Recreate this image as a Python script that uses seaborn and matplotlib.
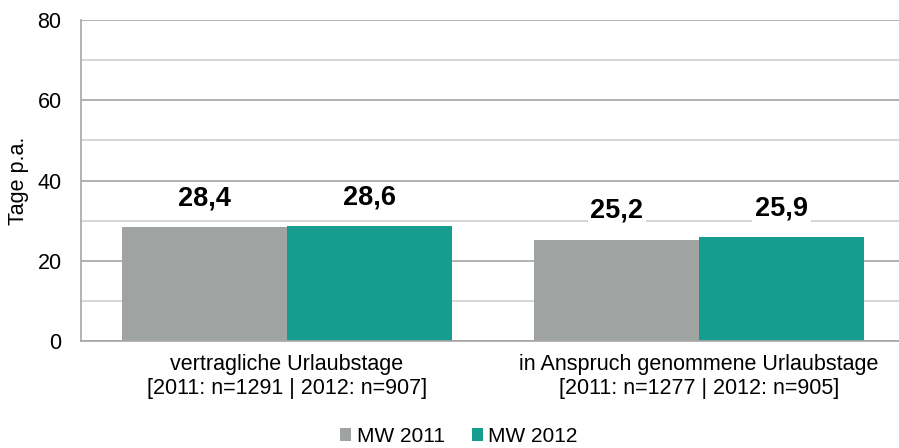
import pandas as pd
import matplotlib.pyplot as plt
import seaborn as sns
from matplotlib.ticker import MultipleLocator

categories = ['vertragliche Urlaubstage\n[2011: n=1291 | 2012: n=907]',
              'in Anspruch genommene Urlaubstage\n[2011: n=1277 | 2012: n=905]']
series = ['MW 2011', 'MW 2012']
values_2011 = [28.4, 25.2]
values_2012 = [28.6, 25.9]
colors = ['#9fa3a2', '#169d8f']

df = pd.DataFrame({
    'Kategorie': categories * 2,
    'Serie': [series[0]] * 2 + [series[1]] * 2,
    'Wert': values_2011 + values_2012,
})

sns.set_style('white')
plt.rcParams['font.family'] = ['Liberation Sans', 'DejaVu Sans']
plt.rcParams['text.color'] = 'black'

fig = plt.figure(figsize=(8.99, 4.48), dpi=100)
ax = fig.add_axes([81 / 899, 1 - 341 / 448, 1 - 81 / 899, 321 / 448])

sns.barplot(data=df, x='Kategorie', y='Wert', hue='Serie', order=categories,
            hue_order=series, palette=colors, width=0.8, saturation=1,
            linewidth=0, ax=ax, zorder=2)

ax.set_ylim(0, 80)
ax.set_xlim(-0.5, 1.485)
ax.yaxis.set_major_locator(MultipleLocator(20))
ax.yaxis.set_minor_locator(MultipleLocator(10))
ax.grid(which='major', axis='y', color='#a6a6a6', linewidth=1.2, zorder=0)
ax.grid(which='minor', axis='y', color='#d0d0d0', linewidth=1.2, zorder=0)
ax.set_axisbelow(True)

for side in ['top', 'right']:
    ax.spines[side].set_visible(False)
ax.spines['left'].set_color('#a6a6a6')
ax.spines['bottom'].set_color('#a6a6a6')
ax.spines['left'].set_linewidth(1.2)
ax.spines['bottom'].set_linewidth(1.2)

ax.tick_params(axis='both', which='both', length=0, labelsize=15.5,
               colors='black', labelcolor='black')
ax.tick_params(axis='y', pad=14)
ax.tick_params(axis='x', pad=9)
ax.set_xlabel('')
ax.set_ylabel('Tage p.a.', fontsize=15.5, labelpad=6, color='black')

for cont in ax.containers:
    for bar in cont:
        h = bar.get_height()
        ax.text(bar.get_x() + bar.get_width() / 2, h + 7.2,
                f'{h:.1f}'.replace('.', ','), ha='center', va='center',
                fontsize=19.5, fontweight='bold', color='black',
                bbox=dict(facecolor='white', edgecolor='none', pad=2), zorder=3)

handles, labels = ax.get_legend_handles_labels()
leg = ax.legend(handles, labels, loc='center', bbox_to_anchor=(0.462, -0.297),
                ncol=2, frameon=False, fontsize=15, handlelength=0.55,
                handleheight=0.55, handletextpad=0.25, columnspacing=1.3,
                borderaxespad=0)
for t in leg.get_texts():
    t.set_color('black')

fig.savefig('out.png', dpi=100)
